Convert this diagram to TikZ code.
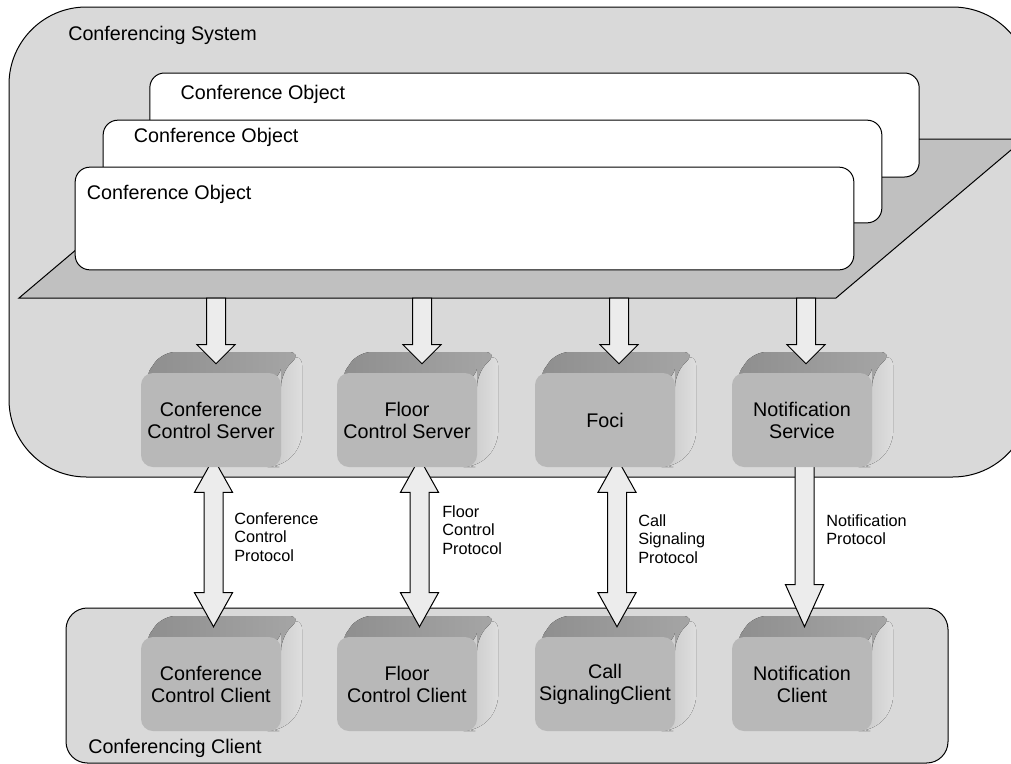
\documentclass[tikz,border=0pt]{standalone}
\usepackage{fontspec}
\setmainfont{Liberation Sans}
\usepackage{tikz}
\usetikzlibrary{arrows.meta, positioning, calc}

\definecolor{sysgray}{HTML}{D9D9D9}
\definecolor{platgray}{HTML}{C0C0C0}
\definecolor{arrowgray}{HTML}{ECECEC}
\definecolor{frontgray}{HTML}{B8B8B8}
\definecolor{topgray}{HTML}{8E8E8E}
\definecolor{sidedark}{HTML}{C6C6C6}
\definecolor{sidelight}{HTML}{DEDEDE}

\pgfdeclarelayer{front}
\pgfsetlayers{main,front}

\newcommand{\bigfont}{\fontsize{14.8}{16.5}\selectfont}
\newcommand{\smallfont}{\fontsize{12.2}{13.9}\selectfont}

% 3D component: name, x, y, text
\newcommand{\cube}[4]{%
  \fill[rounded corners=10pt, left color=sidedark, right color=sidelight]
    (#2+55,#3-47) -- (#2+91,#3-68) -- (#2+91,#3+26) -- (#2+70,#3+47) -- (#2+55,#3+47) -- cycle;
  \fill[rounded corners=10pt, left color=topgray, right color=topgray!70!sidelight]
    (#2-68,#3-40) -- (#2-49,#3-68) -- (#2+91,#3-68) -- (#2+70,#3-47) -- (#2+70,#3-40) -- cycle;
  \node[cubebox] (#1) at (#2,#3) {#4};
}

% fat arrow pointing down: start, tip, head length
\newcommand{\fatdown}[3]{%
  \draw[fatarrow] ($(#1)+(-9.5,0)$) -- ($(#2)+(-9.5,-#3)$) -- ++(-9.5,0) -- (#2)
    -- ++(19,-#3) -- ++(-9.5,0) -- ($(#1)+(9.5,0)$) -- cycle;
}

% fat arrow with two heads: upper node, lower node, x shift
\newcommand{\fatboth}[3]{%
  \coordinate (ftop) at ($(#1.south)+(#3,-9)$);
  \coordinate (fbot) at ($(#2.north)+(#3,-10)$);
  \draw[fatarrow] (ftop) -- ++(19,34) -- ++(-9.5,0) -- ($(fbot)+(9.5,-34)$) -- ++(9.5,0) -- (fbot)
    -- ++(-19,-34) -- ++(9.5,0) -- ($(ftop)+(-9.5,34)$) -- ++(-9.5,0) -- cycle;
}

\begin{document}
\begin{tikzpicture}[x=0.75pt, y=-0.75pt,
    container/.style={draw=black, line width=0.75pt, fill=sysgray},
    objbox/.style={draw=black, line width=0.75pt, fill=white, rounded corners=11pt,
      minimum width=584pt, minimum height=77pt},
    cubebox/.style={fill=frontgray, rounded corners=9pt, minimum width=105pt,
      minimum height=70.5pt, align=center, font=\bigfont, inner sep=2pt},
    fatarrow/.style={draw=black, line width=0.75pt, fill=arrowgray, line join=miter},
    tag/.style={anchor=west, font=\bigfont, inner sep=0pt},
    proto/.style={anchor=west, align=left, font=\smallfont, inner sep=0pt}]
  \useasboundingbox (0,0) rectangle (1011,764);
  \clip (0,0) rectangle (1011,764);

  % Containers
  \draw[container, rounded corners=58pt] (9,7) rectangle (1030,477);
  \draw[container, rounded corners=16pt] (66,608) rectangle (948,763);
  \node[tag] (sys) at (68,35) {Conferencing System};
  \node[tag] (cli) at (88,748) {Conferencing Client};

  % Platform and conference objects
  \draw[line width=0.75pt, fill=platgray] (19,298) -- (836,298) -- (1024,139) -- (207,139) -- cycle;
  \node[objbox, minimum width=577pt, minimum height=78pt] (obj3) at (534.5,125) {};
  \node[objbox] (obj2) at (492.5,171.5) {};
  \node[objbox] (obj1) at (464.5,218.5) {};
  \node[tag] (obj3t) at ($(obj3.north west)+(31,22)$) {Conference Object};
  \node[tag] (obj2t) at ($(obj2.north west)+(31,18)$) {Conference Object};
  \node[tag] (obj1t) at ($(obj1.north west)+(12,28)$) {Conference Object};

  % Clients
  \cube{ccc}{211}{684}{Conference\\Control Client}
  \cube{fcc}{407}{684}{Floor\\Control Client}
  \cube{csc}{605}{684}{Call\\SignalingClient}
  \cube{ncl}{802}{684}{Notification\\Client}

  % Servers
  \begin{pgfonlayer}{front}
    \cube{ccs}{211}{420}{Conference\\Control Server}
    \cube{fcs}{407}{420}{Floor\\Control Server}
    \cube{foci}{605}{420}{Foci}
    \cube{ns}{802}{420}{Notification\\Service}

    % Objects to servers
    \coordinate (pf1) at (216,298);
    \coordinate (pf2) at (422,298);
    \coordinate (pf3) at (619,298);
    \coordinate (pf4) at (806,298);
    \coordinate (t1) at ($(pf1 |- ccs.north)+(0,-9)$);
    \coordinate (t2) at ($(pf2 |- fcs.north)+(0,-9)$);
    \coordinate (t3) at ($(pf3 |- foci.north)+(0,-9)$);
    \coordinate (t4) at ($(pf4 |- ns.north)+(0,-9)$);
    \fatdown{pf1}{t1}{19}
    \fatdown{pf2}{t2}{19}
    \fatdown{pf3}{t3}{19}
    \fatdown{pf4}{t4}{19}
  \end{pgfonlayer}

  % Protocols
  \fatboth{ccs}{ccc}{2.5}
  \fatboth{fcs}{fcc}{12.5}
  \fatboth{foci}{csc}{12}
  \coordinate (nstop) at ($(ns.south)+(2.5,-9)$);
  \coordinate (nstip) at ($(ncl.north)+(2.5,-10)$);
  \fatdown{nstop}{nstip}{42}

  \node[proto] (ccp) at (234,537) {Conference\\Control\\Protocol};
  \node[proto] (fcp) at (442,530) {Floor\\Control\\Protocol};
  \node[proto] (csp) at (638,539) {Call\\Signaling\\Protocol};
  \node[proto] (np) at (826,529.5) {Notification\\Protocol};
\end{tikzpicture}
\end{document}
